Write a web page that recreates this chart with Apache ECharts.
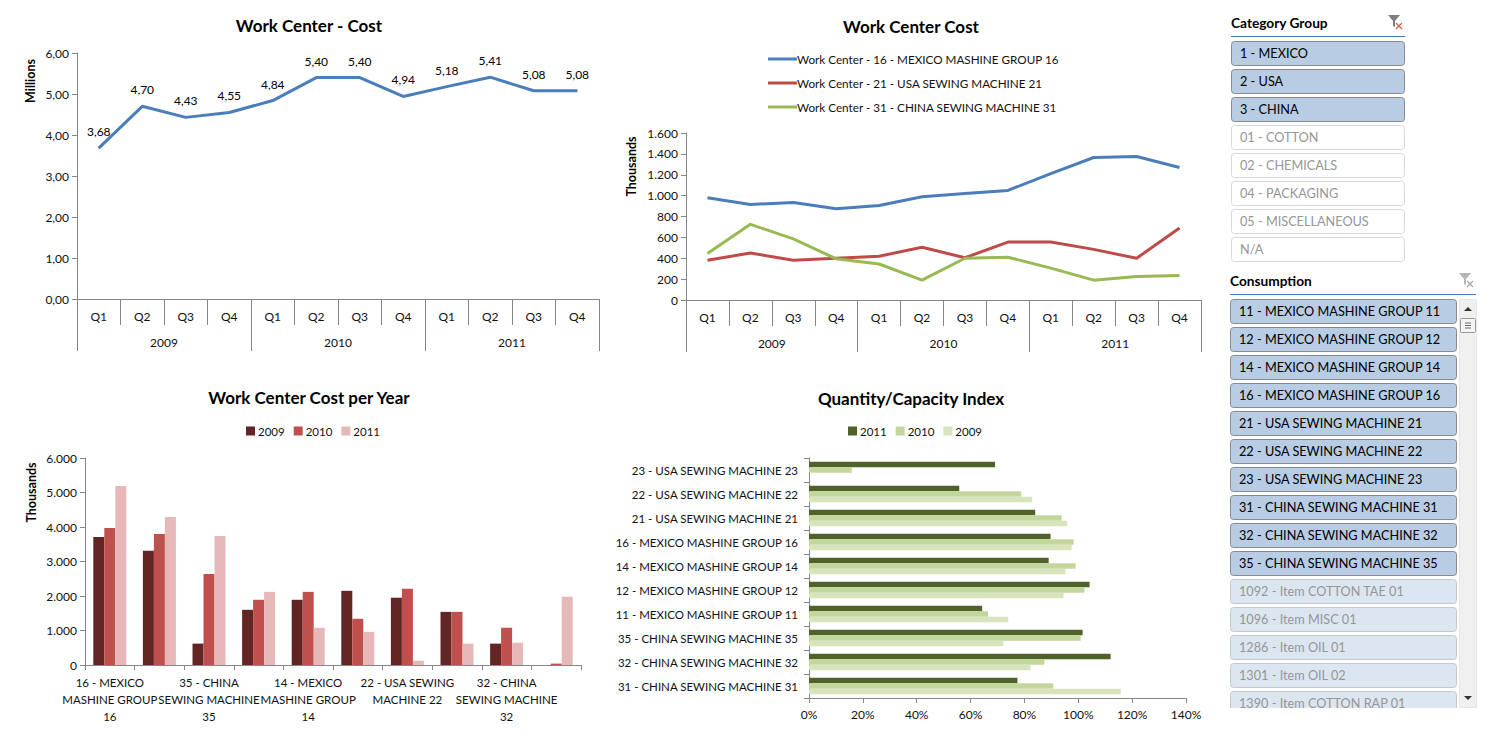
<!DOCTYPE html>
<html>
<head>
<meta charset="utf-8">
<title>Work Center Cost</title>
<script src="https://cdn.jsdelivr.net/npm/echarts@6/dist/echarts.min.js"></script>
<style>
html, body { margin: 0; padding: 0; background: #fff; }
#main { width: 1500px; height: 750px; }
</style>
</head>
<body>
<div id="main"></div>
<script>
// chart values
var quarters = ['Q1', 'Q2', 'Q3', 'Q4', 'Q1', 'Q2', 'Q3', 'Q4', 'Q1', 'Q2', 'Q3', 'Q4'];
var years = ['2009', '2010', '2011'];

var costMillions = [3.68, 4.70, 4.43, 4.55, 4.84, 5.40, 5.40, 4.94, 5.18, 5.41, 5.08, 5.08];

var costMexico16 = [980, 915, 935, 875, 905, 990, 1020, 1050, 1210, 1365, 1375, 1270];
var costUsa21 = [380, 450, 380, 400, 420, 505, 405, 555, 555, 485, 400, 690];
var costChina31 = [445, 725, 585, 395, 345, 190, 400, 410, 305, 190, 225, 235];

var yearCenters = [
    '16 - MEXICO\nMASHINE GROUP\n16', '12 - MEXICO MASHINE GROUP 12',
    '35 - CHINA\nSEWING MACHINE\n35', '21 - USA SEWING MACHINE 21',
    '14 - MEXICO\nMASHINE GROUP\n14', '31 - CHINA SEWING MACHINE 31',
    '22 - USA SEWING\nMACHINE 22', '11 - MEXICO MASHINE GROUP 11',
    '32 - CHINA\nSEWING MACHINE\n32', '23 - USA SEWING MACHINE 23'
];
var yearCost2009 = [3710, 3310, 620, 1600, 1890, 2150, 1950, 1540, 620, null];
var yearCost2010 = [3970, 3800, 2640, 1890, 2120, 1340, 2210, 1540, 1080, 40];
var yearCost2011 = [5190, 4290, 3740, 2120, 1080, 960, 125, 620, 645, 1980];

var indexCenters = [
    '31 - CHINA SEWING MACHINE 31', '32 - CHINA SEWING MACHINE 32', '35 - CHINA SEWING MACHINE 35',
    '11 - MEXICO MASHINE GROUP 11', '12 - MEXICO MASHINE GROUP 12', '14 - MEXICO MASHINE GROUP 14',
    '16 - MEXICO MASHINE GROUP 16', '21 - USA SEWING MACHINE 21', '22 - USA SEWING MACHINE 22',
    '23 - USA SEWING MACHINE 23'
];
var index2009 = [115.8, 82.2, 72.2, 74, 94.5, 95.2, 97.5, 95.9, 82.9, null];
var index2010 = [90.7, 87.4, 100.9, 66.5, 102.3, 99, 98.3, 93.8, 78.8, 15.9];
var index2011 = [77.4, 112, 101.6, 64.3, 104.2, 89, 89.7, 84, 55.8, 69.1];

// slicer panels on the right
var groupSelected = ['1 - MEXICO', '2 - USA', '3 - CHINA'];
var groupDisabled = ['01 - COTTON', '02 - CHEMICALS', '04 - PACKAGING', '05 - MISCELLANEOUS', 'N/A'];
var consumptionSelected = [
    '11 - MEXICO MASHINE GROUP 11', '12 - MEXICO MASHINE GROUP 12', '14 - MEXICO MASHINE GROUP 14',
    '16 - MEXICO MASHINE GROUP 16', '21 - USA SEWING MACHINE 21', '22 - USA SEWING MACHINE 22',
    '23 - USA SEWING MACHINE 23', '31 - CHINA SEWING MACHINE 31', '32 - CHINA SEWING MACHINE 32',
    '35 - CHINA SEWING MACHINE 35'
];
var consumptionDisabled = [
    '1092 - Item COTTON TAE 01', '1096 - Item MISC 01', '1286 - Item OIL 01',
    '1301 - Item OIL 02', '1390 - Item COTTON RAP 01'
];

var FONT = 'Lato';
var AXIS_COLOR = '#868686';
var TEXT_COLOR = '#111';

function axisLine() {
    return { show: true, lineStyle: { color: AXIS_COLOR, width: 1 } };
}

function thousands(v) {
    return String(v).replace(/\B(?=(\d{3})+$)/g, '.');
}

function quarterAxis(gridIndex) {
    return {
        type: 'category', gridIndex: gridIndex, data: quarters,
        axisLine: axisLine(),
        axisTick: { show: true, length: 26, lineStyle: { color: AXIS_COLOR } },
        axisLabel: { interval: 0, margin: 11, color: TEXT_COLOR, fontFamily: FONT, fontSize: 12 }
    };
}

function yearAxis(gridIndex) {
    return {
        type: 'category', gridIndex: gridIndex, data: years, position: 'bottom',
        axisLine: { show: false },
        axisTick: { show: true, length: 52, lineStyle: { color: AXIS_COLOR } },
        axisLabel: { interval: 0, margin: 37, color: TEXT_COLOR, fontFamily: FONT, fontSize: 12 }
    };
}

function valueAxis(gridIndex, name, gap, shift, max, interval, formatter) {
    return {
        type: 'value', gridIndex: gridIndex, min: 0, max: max, interval: interval,
        name: name, nameLocation: 'middle', nameGap: gap,
        nameTextStyle: { fontFamily: FONT, fontSize: 12.5, fontWeight: 'bold', color: '#000', padding: [0, 0, 0, shift] },
        splitLine: { show: false },
        axisLine: axisLine(),
        axisTick: { show: true, length: 5, lineStyle: { color: AXIS_COLOR } },
        axisLabel: { margin: 8, color: TEXT_COLOR, fontFamily: FONT, fontSize: 12, formatter: formatter }
    };
}

function lineSeries(name, data, color, xIndex, yIndex) {
    return {
        type: 'line', name: name, data: data, xAxisIndex: xIndex, yAxisIndex: yIndex,
        symbol: 'none', smooth: false, lineStyle: { color: color, width: 3 }, itemStyle: { color: color }
    };
}

function barSeries(name, data, color, xIndex, yIndex, width) {
    return {
        type: 'bar', name: name, data: data, xAxisIndex: xIndex, yAxisIndex: yIndex,
        barWidth: width, barGap: 0, itemStyle: { color: color }
    };
}

function barLegend(left, items) {
    return {
        left: left, top: 420, icon: 'rect', itemWidth: 9, itemHeight: 9, itemGap: 9, selectedMode: false,
        textStyle: { fontFamily: FONT, fontSize: 11.5, color: TEXT_COLOR, padding: [0, 0, 0, -2] },
        data: items
    };
}

function titleAt(text, x, y) {
    return {
        text: text, left: x, top: y, textAlign: 'center', padding: 0,
        textStyle: { fontFamily: FONT, fontSize: 17, fontWeight: 'bold', color: '#000' }
    };
}

// --- slicers, drawn as graphic elements ---
var CELL_H = 24;
var CELL_STEP = 28;
var STYLES = {
    selected: { fill: '#b8cce4', stroke: '#8a8a8a', text: '#000' },
    plain: { fill: '#fff', stroke: '#d9d9d9', text: '#969696' },
    faded: { fill: '#dce6f1', stroke: '#c6c9cc', text: '#969696' }
};

function slicerCell(label, x, y, w, style) {
    return [
        { type: 'rect', shape: { x: x + 0.5, y: y + 0.5, width: w, height: CELL_H, r: 3 },
          style: { fill: style.fill, stroke: style.stroke, lineWidth: 1 } },
        { type: 'text', x: x + 9, y: y + 12,
          style: { text: label, fill: style.text, font: '12.7px ' + FONT, textVerticalAlign: 'middle' } }
    ];
}

function slicerHeader(label, x, y, lineRight, iconX, funnelColor, crossColor) {
    return [
        { type: 'text', x: x, y: y - 1,
          style: { text: label, fill: '#000', font: 'bold 13.7px ' + FONT, textVerticalAlign: 'middle' } },
        { type: 'line', shape: { x1: x, y1: y + 13.5, x2: lineRight, y2: y + 13.5 },
          style: { stroke: '#4a7ebb', lineWidth: 1 } },
        { type: 'polygon', shape: { points: [[iconX, y - 8], [iconX + 12, y - 8], [iconX + 7, y - 2], [iconX + 7, y + 4], [iconX + 5, y + 3], [iconX + 5, y - 2]] },
          style: { fill: funnelColor } },
        { type: 'line', shape: { x1: iconX + 8, y1: y, x2: iconX + 14, y2: y + 6 }, style: { stroke: crossColor, lineWidth: 1.3 } },
        { type: 'line', shape: { x1: iconX + 14, y1: y, x2: iconX + 8, y2: y + 6 }, style: { stroke: crossColor, lineWidth: 1.3 } }
    ];
}

function slicerGraphics() {
    var out = [];
    out = out.concat(slicerHeader('Category Group', 1231, 23, 1405, 1388, '#7f7f7f', '#d9614c'));
    groupSelected.forEach(function (label, i) {
        out = out.concat(slicerCell(label, 1231, 41 + i * CELL_STEP, 173, STYLES.selected));
    });
    groupDisabled.forEach(function (label, i) {
        out = out.concat(slicerCell(label, 1231, 41 + (i + groupSelected.length) * CELL_STEP, 173, STYLES.plain));
    });

    out = out.concat(slicerHeader('Consumption', 1230, 281, 1476, 1459, '#b5b5b5', '#a6a6a6'));
    consumptionSelected.forEach(function (label, i) {
        out = out.concat(slicerCell(label, 1230, 299 + i * CELL_STEP, 226, STYLES.selected));
    });
    consumptionDisabled.forEach(function (label, i) {
        out = out.concat(slicerCell(label, 1230, 299 + (i + consumptionSelected.length) * CELL_STEP, 226, STYLES.faded));
    });

    // white cover clips the last cell, then the scrollbar
    out.push({ type: 'rect', shape: { x: 1228, y: 708, width: 232, height: 20 }, style: { fill: '#fff' } });
    out.push({ type: 'rect', shape: { x: 1459.5, y: 299.5, width: 17, height: 408 }, style: { fill: '#f0f0f0', stroke: '#e6e6e6' } });
    out.push({ type: 'polygon', shape: { points: [[1464, 311], [1472, 311], [1468, 307]] }, style: { fill: '#333' } });
    out.push({ type: 'polygon', shape: { points: [[1464, 696], [1472, 696], [1468, 700]] }, style: { fill: '#333' } });
    out.push({ type: 'rect', shape: { x: 1460.5, y: 318.5, width: 15, height: 14, r: 1 }, style: { fill: '#f4f4f4', stroke: '#9a9a9a' } });
    [323, 325.5, 328].forEach(function (y) {
        out.push({ type: 'line', shape: { x1: 1465, y1: y, x2: 1471, y2: y }, style: { stroke: '#666', lineWidth: 1 } });
    });
    return out;
}

// a line needs a symbol for its labels to draw, so keep a tiny one
var costLine = lineSeries('Cost', costMillions, '#4a7ebb', 0, 0);
costLine.symbol = 'circle';
costLine.symbolSize = 1;
costLine.label = {
    show: true, position: 'top', distance: 10, color: '#000', fontFamily: FONT, fontSize: 12,
    formatter: function (p) { return p.value.toFixed(2).replace('.', ','); }
};

var option = {
    animation: false,
    backgroundColor: '#fff',
    textStyle: { fontFamily: FONT },
    title: [
        titleAt('Work Center - Cost', 309, 17),
        titleAt('Work Center Cost', 911, 18),
        titleAt('Work Center Cost per Year', 309, 389),
        titleAt('Quantity/Capacity Index', 911, 390)
    ],
    legend: [
        {
            left: 763, top: 48, orient: 'vertical', icon: 'rect', itemWidth: 29, itemHeight: 3, itemGap: 12, selectedMode: false,
            textStyle: { fontFamily: FONT, fontSize: 11.7, color: TEXT_COLOR, padding: [0, 0, 0, -5] },
            data: ['Work Center - 16 - MEXICO MASHINE GROUP 16', 'Work Center - 21 - USA SEWING MACHINE 21', 'Work Center - 31 - CHINA SEWING MACHINE 31']
        },
        barLegend(241, [
            { name: '2009', itemStyle: { color: '#632523' } },
            { name: '2010', itemStyle: { color: '#c0504d' } },
            { name: '2011', itemStyle: { color: '#e6b9b8' } }
        ]),
        barLegend(843, [
            { name: '2011', itemStyle: { color: '#4f6228' } },
            { name: '2010', itemStyle: { color: '#c3d69b' } },
            { name: '2009', itemStyle: { color: '#d8e4bc' } }
        ])
    ],
    grid: [
        { left: 77, top: 53, width: 522, height: 246 },
        { left: 686, top: 133, width: 515, height: 167 },
        { left: 85, top: 458, width: 496, height: 207 },
        { left: 809, top: 458, width: 377, height: 240 }
    ],
    xAxis: [
        quarterAxis(0),
        yearAxis(0),
        quarterAxis(1),
        yearAxis(1),
        {
            type: 'category', gridIndex: 2, data: yearCenters,
            axisLine: axisLine(),
            axisTick: { show: true, length: 5, lineStyle: { color: AXIS_COLOR } },
            // interval 0 so the first and last labels are not dropped; every other one is blanked
            axisLabel: {
                interval: 0, margin: 9, lineHeight: 17, color: TEXT_COLOR, fontFamily: FONT, fontSize: 11.5,
                formatter: function (v, i) { return i % 2 ? '' : v; }
            }
        },
        {
            type: 'value', gridIndex: 3, min: 0, max: 140, interval: 20,
            splitLine: { show: false },
            axisLine: axisLine(),
            axisTick: { show: true, length: 5, lineStyle: { color: AXIS_COLOR } },
            axisLabel: { margin: 10, color: TEXT_COLOR, fontFamily: FONT, fontSize: 12, formatter: '{value}%' }
        }
    ],
    yAxis: [
        valueAxis(0, 'Millions', 40, 190, 6, 1, function (v) { return v.toFixed(2).replace('.', ','); }),
        valueAxis(1, 'Thousands', 48, 100, 1600, 200, thousands),
        valueAxis(2, 'Thousands', 47, 138, 6000, 1000, thousands),
        {
            type: 'category', gridIndex: 3, data: indexCenters,
            axisLine: axisLine(),
            axisTick: { show: true, length: 5, lineStyle: { color: AXIS_COLOR } },
            axisLabel: { interval: 0, margin: 11, color: TEXT_COLOR, fontFamily: FONT, fontSize: 11.5 }
        }
    ],
    series: [
        costLine,
        lineSeries('Work Center - 16 - MEXICO MASHINE GROUP 16', costMexico16, '#4a7ebb', 2, 1),
        lineSeries('Work Center - 21 - USA SEWING MACHINE 21', costUsa21, '#be4b48', 2, 1),
        lineSeries('Work Center - 31 - CHINA SEWING MACHINE 31', costChina31, '#98b954', 2, 1),
        barSeries('2009', yearCost2009, '#632523', 4, 2, 11),
        barSeries('2010', yearCost2010, '#c0504d', 4, 2, 11),
        barSeries('2011', yearCost2011, '#e6b9b8', 4, 2, 11),
        barSeries('2011', index2011, '#4f6228', 5, 3, 5.5),
        barSeries('2010', index2010, '#c3d69b', 5, 3, 5.5),
        barSeries('2009', index2009, '#d8e4bc', 5, 3, 5.5)
    ],
    graphic: { elements: slicerGraphics() }
};

var myChart = echarts.init(document.getElementById('main'), null, { renderer: 'svg' });
myChart.setOption(option);
</script>
</body>
</html>
